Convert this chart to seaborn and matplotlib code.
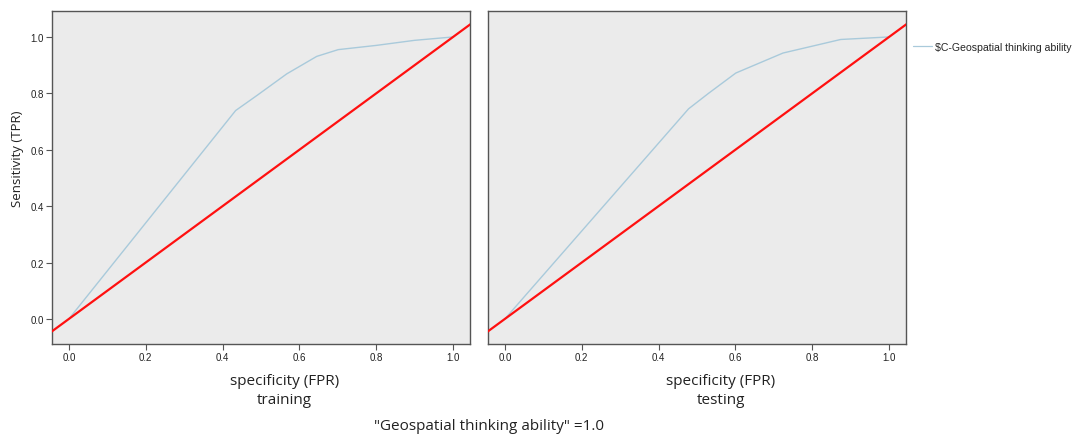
import pandas as pd
import matplotlib
matplotlib.use("Agg")
import matplotlib.pyplot as plt
import seaborn as sns

# ROC points
train_fpr = [0.0, 0.434, 0.489, 0.567, 0.645, 0.701, 0.80, 0.90, 1.0]
train_tpr = [0.0, 0.739, 0.792, 0.869, 0.931, 0.955, 0.970, 0.988, 1.0]

test_fpr = [0.0, 0.478, 0.530, 0.601, 0.724, 0.796, 0.874, 1.0]
test_tpr = [0.0, 0.745, 0.800, 0.872, 0.943, 0.966, 0.991, 1.0]

ref_line = [-0.05, 1.05]
ticks = [0.0, 0.2, 0.4, 0.6, 0.8, 1.0]
series_name = "$C-Geospatial thinking ability"

sns.set_style("white")
plt.rcParams["font.family"] = ["Liberation Sans", "DejaVu Sans"]

curve_col = "#a9cadb"
bg_col = "#ebebeb"
spine_col = "#555555"

fig = plt.figure(figsize=(10.75, 4.35), dpi=100)
ax1 = fig.add_axes([52 / 1075, 1 - 345 / 435, 418 / 1075, 333 / 435])
ax2 = fig.add_axes([488 / 1075, 1 - 345 / 435, 418 / 1075, 333 / 435])

panels = [
    (ax1, train_fpr, train_tpr, "training"),
    (ax2, test_fpr, test_tpr, "testing"),
]

for ax, fpr, tpr, name in panels:
    df = pd.DataFrame({"fpr": fpr, "tpr": tpr, "series": series_name.replace("$", r"\$")})
    sns.lineplot(data=df, x="fpr", y="tpr", hue="series", palette=[curve_col],
                 linewidth=1.0, ax=ax, legend=(ax is ax2), estimator=None, sort=False)
    ax.plot(ref_line, ref_line, color="#ff1010", linewidth=1.6, zorder=3)
    ax.set_facecolor(bg_col)
    ax.set_xlim(-0.044, 1.044)
    ax.set_ylim(-0.089, 1.092)
    ax.set_xticks(ticks)
    ax.set_xticklabels([f"{t:.1f}" for t in ticks], fontsize=7, color="#222222")
    ax.set_yticks(ticks)
    for s in ax.spines.values():
        s.set_color(spine_col)
        s.set_linewidth(1.0)
    ax.tick_params(axis="both", direction="out", length=4, width=0.8,
                   color=spine_col, pad=2, bottom=True, left=(ax is ax1))
    ax.set_xlabel(f"specificity (FPR)\n{name}", fontsize=11, family=["Open Sans", "DejaVu Sans"],
                  color="#222222", linespacing=1.35)
    ax.xaxis.set_label_coords(0.557, -0.088, transform=ax.transAxes)
    ax.xaxis.label.set_va("top")

ax1.set_yticklabels([f"{t:.1f}" for t in ticks], fontsize=7, color="#222222")
ax2.set_yticklabels([])
ax2.set_ylabel("")
ax1.set_ylabel("Sensitivity (TPR)", fontsize=9.5, family=["Open Sans", "DejaVu Sans"], color="#222222")
ax1.yaxis.set_label_coords(-0.067, 0.56)

leg = ax2.legend(loc="upper left", bbox_to_anchor=(1.0, 0.93), frameon=False,
                 fontsize=7.6, handlelength=1.75, handletextpad=0.3, borderaxespad=0.3)
for line in leg.get_lines():
    line.set_linewidth(0.9)

fig.text(489 / 1075, 1 - 427 / 435, '"Geospatial thinking ability" =1.0', ha="center", va="center",
         fontsize=11, family=["Open Sans", "DejaVu Sans"], color="#222222")

fig.savefig("out.png", dpi=100)
